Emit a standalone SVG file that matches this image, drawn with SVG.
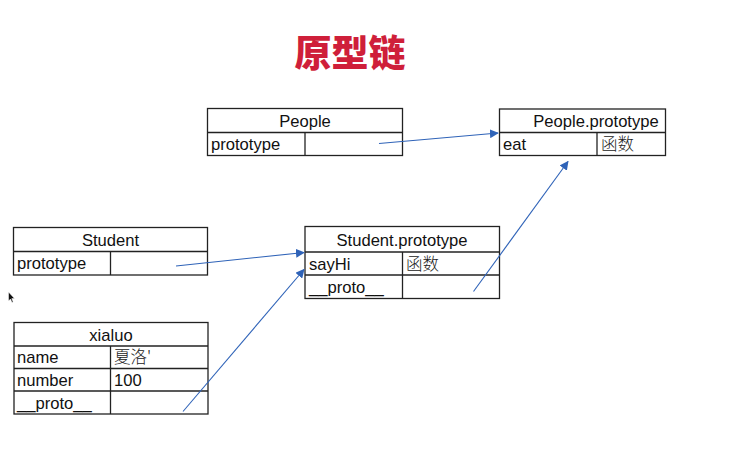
<svg xmlns="http://www.w3.org/2000/svg" width="734" height="454" viewBox="0 0 734 454">
<defs>
<marker id="ah" viewBox="0 0 10 10" refX="9" refY="5" markerWidth="9" markerHeight="9" markerUnits="userSpaceOnUse" orient="auto">
<path d="M0,0 L10,5 L0,10 z" fill="#2f63b8"/>
</marker>
<style>
.box{fill:#fff;stroke:#222;stroke-width:1.3}
.ln{stroke:#222;stroke-width:1.3}
.t{font-family:"Liberation Sans","Noto Sans CJK SC",sans-serif;font-size:16.6px;fill:#111}
.c{text-anchor:middle}
.cjk{font-family:"Noto Sans CJK SC",sans-serif;font-size:16.5px;fill:#222;font-weight:300}
.arr{stroke:#2f63b8;stroke-width:1.1;fill:none;marker-end:url(#ah)}
.title{font-family:"Noto Sans CJK SC",sans-serif;font-size:37px;font-weight:900;fill:#cf1f3a;text-anchor:middle}
</style>
</defs>
<rect width="734" height="454" fill="#fff"/>
<text class="title" x="350" y="67">原型链</text>

<g id="people">
<rect class="box" x="207.5" y="108.5" width="195" height="47"/>
<line class="ln" x1="207.5" y1="132.5" x2="402.5" y2="132.5"/>
<line class="ln" x1="305" y1="132.5" x2="305" y2="155.5"/>
<text class="t c" x="305" y="127">People</text>
<text class="t" x="211" y="150">prototype</text>
</g>

<g id="people-prototype">
<rect class="box" x="499.5" y="109" width="166" height="46.5"/>
<line class="ln" x1="499.5" y1="132.5" x2="665.5" y2="132.5"/>
<line class="ln" x1="597" y1="132.5" x2="597" y2="155.5"/>
<text class="t c" x="596" y="127">People.prototype</text>
<text class="t" x="503" y="150">eat</text>
<text class="cjk" x="601" y="150">函数</text>
</g>

<g id="student">
<rect class="box" x="13.5" y="227.5" width="194" height="47.5"/>
<line class="ln" x1="13.5" y1="251.5" x2="207.5" y2="251.5"/>
<line class="ln" x1="110.5" y1="251.5" x2="110.5" y2="275"/>
<text class="t c" x="110.5" y="246">Student</text>
<text class="t" x="17" y="269">prototype</text>
</g>

<g id="student-prototype">
<rect class="box" x="305" y="226.5" width="194.5" height="72"/>
<line class="ln" x1="305" y1="252" x2="499.5" y2="252"/>
<line class="ln" x1="305" y1="275" x2="499.5" y2="275"/>
<line class="ln" x1="402.5" y1="252" x2="402.5" y2="298.5"/>
<text class="t c" x="402" y="246">Student.prototype</text>
<text class="t" x="309" y="270">sayHi</text>
<text class="cjk" x="406" y="270">函数</text>
<text class="t" x="309" y="293">__proto__</text>
</g>

<g id="xialuo">
<rect class="box" x="14" y="322.5" width="194" height="91.5"/>
<line class="ln" x1="14" y1="346" x2="208" y2="346"/>
<line class="ln" x1="14" y1="368.5" x2="208" y2="368.5"/>
<line class="ln" x1="14" y1="391" x2="208" y2="391"/>
<line class="ln" x1="110.5" y1="346" x2="110.5" y2="414"/>
<text class="t c" x="111" y="341">xialuo</text>
<text class="t" x="17" y="363">name</text>
<text class="cjk" x="114" y="363">夏洛'</text>
<text class="t" x="17" y="386">number</text>
<text class="t" x="114" y="386">100</text>
<text class="t" x="17" y="409">__proto__</text>
</g>

<g id="connectors">
<line class="arr" x1="379" y1="143.5" x2="498" y2="133"/>
<line class="arr" x1="176" y1="266" x2="304" y2="252.5"/>
<line class="arr" x1="183" y1="411.5" x2="304" y2="269.5"/>
<line class="arr" x1="473.5" y1="291.5" x2="568" y2="161.5"/>
</g>

<path d="M8.5,292 L8.5,301 L10.5,299 L12,302.5 L13.2,302 L11.8,298.6 L14.5,298.6 Z" fill="#111" stroke="#fff" stroke-width="0.5"/>
</svg>
